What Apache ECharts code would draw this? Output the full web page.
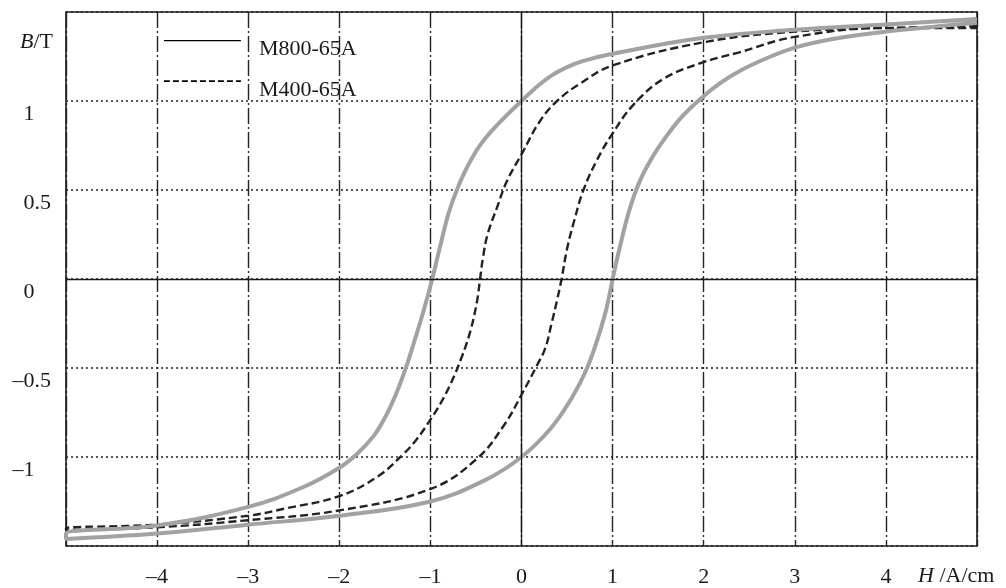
<!DOCTYPE html>
<html>
<head>
<meta charset="utf-8">
<script src="https://cdn.jsdelivr.net/npm/echarts@6/dist/echarts.min.js"></script>
<style>html,body{margin:0;padding:0;background:#fff}#c{width:1006px;height:588px}</style>
</head>
<body>
<div id="c"></div>
<script>
// M800-65A (grey solid loop): descending branch then ascending branch
const m800UpH = [5, 4, 3, 2, 1, 0.68, 0.5, 0.32, 0.135, 0, -0.23, -0.45, -0.6, -0.71, -0.8, -0.89, -0.98, -1.07, -1.17, -1.27, -1.38, -1.5, -1.62, -1.8, -2.0, -2.4, -3, -4, -5];
const m800UpB = [1.46, 1.43, 1.40, 1.355, 1.265, 1.225, 1.19, 1.14, 1.065, 1.0, 0.885, 0.755, 0.625, 0.5, 0.37, 0.19, 0, -0.17, -0.34, -0.5, -0.65, -0.78, -0.88, -0.98, -1.06, -1.17, -1.28, -1.385, -1.43];
const m800LoH = [-5, -4, -3, -2, -1, -0.4, 0, 0.32, 0.55, 0.72, 0.87, 0.94, 1.0, 1.08, 1.18, 1.29, 1.42, 1.56, 1.74, 1.96, 2.18, 2.4, 2.69, 3, 3.43, 4, 5];
const m800LoB = [-1.46, -1.43, -1.38, -1.33, -1.25, -1.13, -1.0, -0.84, -0.67, -0.5, -0.28, -0.15, 0, 0.18, 0.38, 0.54, 0.67, 0.78, 0.90, 1.01, 1.10, 1.17, 1.24, 1.30, 1.35, 1.39, 1.44];
// M400-65A (black dashed loop)
const m400UpH = [5, 4, 3, 2, 1, 0.65, 0.39, 0.2, 0, -0.16, -0.27, -0.37, -0.42, -0.455, -0.49, -0.56, -0.65, -0.77, -0.89, -1.0, -1.15, -1.29, -1.58, -2.0, -2.6, -3, -4, -5];
const m400UpB = [1.42, 1.41, 1.39, 1.33, 1.2, 1.10, 1.0, 0.885, 0.70, 0.55, 0.40, 0.255, 0.13, 0, -0.13, -0.29, -0.43, -0.58, -0.70, -0.79, -0.90, -0.98, -1.11, -1.22, -1.29, -1.33, -1.38, -1.40];
const m400LoH = [-5, -4, -3, -2, -1, -0.49, -0.19, 0, 0.17, 0.26, 0.33, 0.39, 0.44, 0.5, 0.58, 0.68, 0.83, 0.99, 1.23, 1.56, 1.98, 2.4, 3, 4, 5];
const m400LoB = [-1.41, -1.395, -1.355, -1.30, -1.18, -1.01, -0.82, -0.65, -0.485, -0.39, -0.25, -0.12, 0, 0.17, 0.33, 0.5, 0.67, 0.81, 0.98, 1.125, 1.215, 1.275, 1.36, 1.41, 1.41];

const seriesNames = ['M800-65A', 'M400-65A'];

function pairs(hs, bs) { return hs.map((h, i) => [h, bs[i]]); }
const m800Data = pairs(m800UpH, m800UpB).concat(pairs(m800LoH, m800LoB));
const m400Data = pairs(m400UpH, m400UpB).concat(pairs(m400LoH, m400LoB));

const FONT = 'Liberation Serif';
const TXT = '#1a1a1a';
function minus(v) { return v < 0 ? '\u2013' + String(-v) : String(v); }

const chart = echarts.init(document.getElementById('c'), null, {renderer: 'canvas'});
chart.setOption({
  animation: false,
  backgroundColor: '#fff',
  grid: {left: 66, right: 29, top: 12, bottom: 40, show: true, borderColor: '#1a1a1a', borderWidth: 1.6, backgroundColor: 'transparent'},
  legend: {
    orient: 'vertical', left: 163, top: 35, padding: 0, itemGap: 15,
    itemWidth: 77, itemHeight: 14, selectedMode: false,
    formatter: name => '{t|' + name + '}',
    textStyle: {fontFamily: FONT, fontSize: 22, color: TXT,
      rich: {t: {fontFamily: FONT, fontSize: 22, color: TXT, padding: [18, 0, 0, 13]}}},
    data: [
      {name: seriesNames[0], itemStyle: {opacity: 0}, lineStyle: {color: '#000', width: 1.2, type: 'solid'}},
      {name: seriesNames[1], itemStyle: {opacity: 0}, lineStyle: {color: '#000', width: 1.8, type: [6, 3]}}
    ]
  },
  xAxis: {
    type: 'value', min: -5, max: 5, interval: 1,
    name: '{i|H} /A/cm', nameLocation: 'end', nameGap: -59,
    nameTextStyle: {fontFamily: FONT, fontSize: 22, color: TXT, align: 'left', verticalAlign: 'top', padding: [19, 0, 0, 0],
      rich: {i: {fontFamily: FONT, fontSize: 22, fontStyle: 'italic', color: TXT}}},
    axisLine: {show: false, onZero: false}, axisTick: {show: false},
    axisLabel: {fontFamily: FONT, fontSize: 22, color: TXT, margin: 20, showMinLabel: false, showMaxLabel: false, formatter: v => minus(v)},
    splitLine: {show: true, lineStyle: {color: '#222', width: 1.4, type: [16, 3, 2, 3]}}
  },
  yAxis: {
    type: 'value', min: -1.5, max: 1.5, interval: 0.5,
    name: '{i|B}/T', nameLocation: 'end', nameGap: -30,
    nameTextStyle: {fontFamily: FONT, fontSize: 22, color: TXT, align: 'right', verticalAlign: 'middle', padding: [0, 13, 0, 0],
      rich: {i: {fontFamily: FONT, fontSize: 22, fontStyle: 'italic', color: TXT}}},
    axisLine: {show: false, onZero: false}, axisTick: {show: false},
    axisLabel: {fontFamily: FONT, fontSize: 22, color: TXT, margin: 15, align: 'right', verticalAlign: 'top', padding: [2, 0, 0, 0],
      showMinLabel: false, showMaxLabel: false,
      formatter: v => Number.isInteger(v) ? minus(v) + '{h|.5}' : minus(v),
      rich: {h: {fontFamily: FONT, fontSize: 22, color: 'rgba(0,0,0,0)'}}},
    splitLine: {show: true, lineStyle: {color: '#222', width: 1.6, type: [2, 3]}}
  },
  series: [
    {
      name: seriesNames[1], type: 'line', data: m400Data, smooth: 0.4, symbol: 'none',
      itemStyle: {color: '#222'},
      lineStyle: {color: '#222', width: 2.4, type: [8, 4]}, z: 3,
      markLine: {silent: true, symbol: ['none', 'none'], label: {show: false},
        lineStyle: {color: '#1a1a1a', width: 1.3, type: 'solid'},
        data: [{xAxis: 0}, {yAxis: 0}]}
    },
    {
      name: seriesNames[0], type: 'line', data: m800Data, smooth: 0.4, symbol: 'none',
      itemStyle: {color: '#a2a2a2'},
      lineStyle: {color: '#a2a2a2', width: 4}, z: 4
    }
  ]
});
</script>
</body>
</html>
